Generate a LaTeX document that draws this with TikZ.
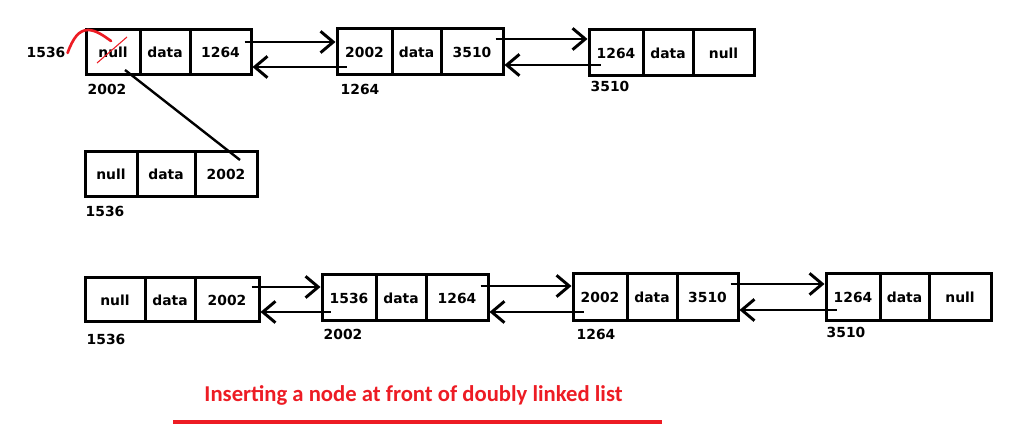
\documentclass[tikz,border=0pt]{standalone}
\usepackage{fontspec}
\setmainfont{DejaVu Sans}
\newfontfamily\titlefont{Carlito}
\usetikzlibrary{arrows.meta,calc}
\definecolor{pred}{HTML}{ED1C24}
\tikzset{
  cw/.style={minimum width=#1*0.75pt},
  ch/.style={minimum height=#1*0.75pt},
  cell/.style={draw, line width=2.25pt, inner sep=0pt, font=\bfseries\fontsize{10.4}{12}\selectfont},
  addr/.style={inner sep=0pt, font=\bfseries\fontsize{10.4}{12}\selectfont},
  link/.style={line width=2.2pt, -{Straight Barb[length=9.5pt,width=16pt]}},
  plainline/.style={line width=1.8pt},
  redpen/.style={pred, line width=2pt, line cap=round},
}
\begin{document}
\begin{tikzpicture}[x=0.75pt,y=-0.75pt]
\useasboundingbox (0,0) rectangle (1020,448);

% ---- top row ----
\node[cell,cw=54,ch=45] (A1) at (113,52.5) {null};
\node[cell,cw=50,ch=45] (A2) at (165,52.5) {data};
\node[cell,cw=61,ch=45] (A3) at (220.5,52.5) {1264};
\node[addr] (lA) at (107,89) {2002};

\node[cell,cw=55,ch=46] (B1) at (364.5,52) {2002};
\node[cell,cw=49,ch=46] (B2) at (416.5,52) {data};
\node[cell,cw=62,ch=46] (B3) at (472,52) {3510};
\node[addr] (lB) at (360,89) {1264};

\node[cell,cw=54,ch=46] (C1) at (616,53) {1264};
\node[cell,cw=50,ch=46] (C2) at (668,53) {data};
\node[cell,cw=61,ch=46] (C3) at (723.5,53) {null};
\node[addr] (lC) at (610,86) {3510};

\node[addr] (L0) at (46,52) {1536};

% ---- new node ----
\node[cell,cw=52,ch=45] (D1) at (111,174.5) {null};
\node[cell,cw=58,ch=45] (D2) at (166,174.5) {data};
\node[cell,cw=62,ch=45] (D3) at (226,174.5) {2002};
\node[addr] (lD) at (105,211) {1536};

% ---- bottom row ----
\node[cell,cw=60,ch=44] (E1) at (115,300) {null};
\node[cell,cw=50,ch=44] (E2) at (170,300) {data};
\node[cell,cw=64,ch=44] (E3) at (227,300) {2002};
\node[addr] (lE) at (106,339) {1536};

\node[cell,cw=54,ch=46] (F1) at (349,298) {1536};
\node[cell,cw=50,ch=46] (F2) at (401,298) {data};
\node[cell,cw=62,ch=46] (F3) at (457,298) {1264};
\node[addr] (lF) at (343,334) {2002};

\node[cell,cw=54,ch=47] (G1) at (600,297.5) {2002};
\node[cell,cw=50,ch=47] (G2) at (652,297.5) {data};
\node[cell,cw=61,ch=47] (G3) at (707.5,297.5) {3510};
\node[addr] (lG) at (596,334) {1264};

\node[cell,cw=54,ch=47] (H1) at (853,297.5) {1264};
\node[cell,cw=49,ch=47] (H2) at (904.5,297.5) {data};
\node[cell,cw=62,ch=47] (H3) at (960,297.5) {null};
\node[addr] (lH) at (846,332) {3510};

% ---- links top ----
\draw[link] ($(A3.east)+(-8,-10.5)$) -- ($(B1.west)+(0,-10)$);
\draw[link] ($(B1.west)+(11,15)$) -- ($(A3.east)+(0,14.5)$);
\draw[link] ($(B3.east)+(-9,-13)$) -- ($(C1.west)+(0,-14)$);
\draw[link] ($(C1.west)+(13,12)$) -- ($(B3.east)+(0,13)$);

% ---- links bottom ----
\draw[link] ($(E3.east)+(-9,-13)$) -- ($(F1.west)+(0,-11)$);
\draw[link] ($(F1.west)+(10,14)$) -- ($(E3.east)+(0,12)$);
\draw[link] ($(F3.east)+(-9,-12)$) -- ($(G1.west)+(0,-11.5)$);
\draw[link] ($(G1.west)+(12,14.5)$) -- ($(F3.east)+(0,14)$);
\draw[link] ($(G3.east)+(-9,-13.5)$) -- ($(H1.west)+(0,-13.5)$);
\draw[link] ($(H1.west)+(12,12.5)$) -- ($(G3.east)+(0,12.5)$);

% ---- new node points to old head ----
\draw[plainline] ($(D3.center)+(14,-14.5)$) -- ($(A1.center)+(12,17.5)$);

% ---- red edits ----
\draw[redpen] ($(L0.east)+(2,1)$) .. controls (73,38) and (79,30) .. (88,30)
   .. controls (96,30) and (104,36) .. (111,41);
\draw[pred, line width=0.8pt] ($(A1.center)+(-16,10.5)$) -- ($(A1.center)+(14,-15.5)$);

% ---- title ----
\node[text=pred, inner sep=0pt, font=\titlefont\bfseries\fontsize{17}{20}\selectfont] (title) at (413.5,395) {Inserting a node at front of doubly linked list};
\draw[pred, line width=2.4pt] (173,422) -- (662,422);
\end{tikzpicture}
\end{document}
